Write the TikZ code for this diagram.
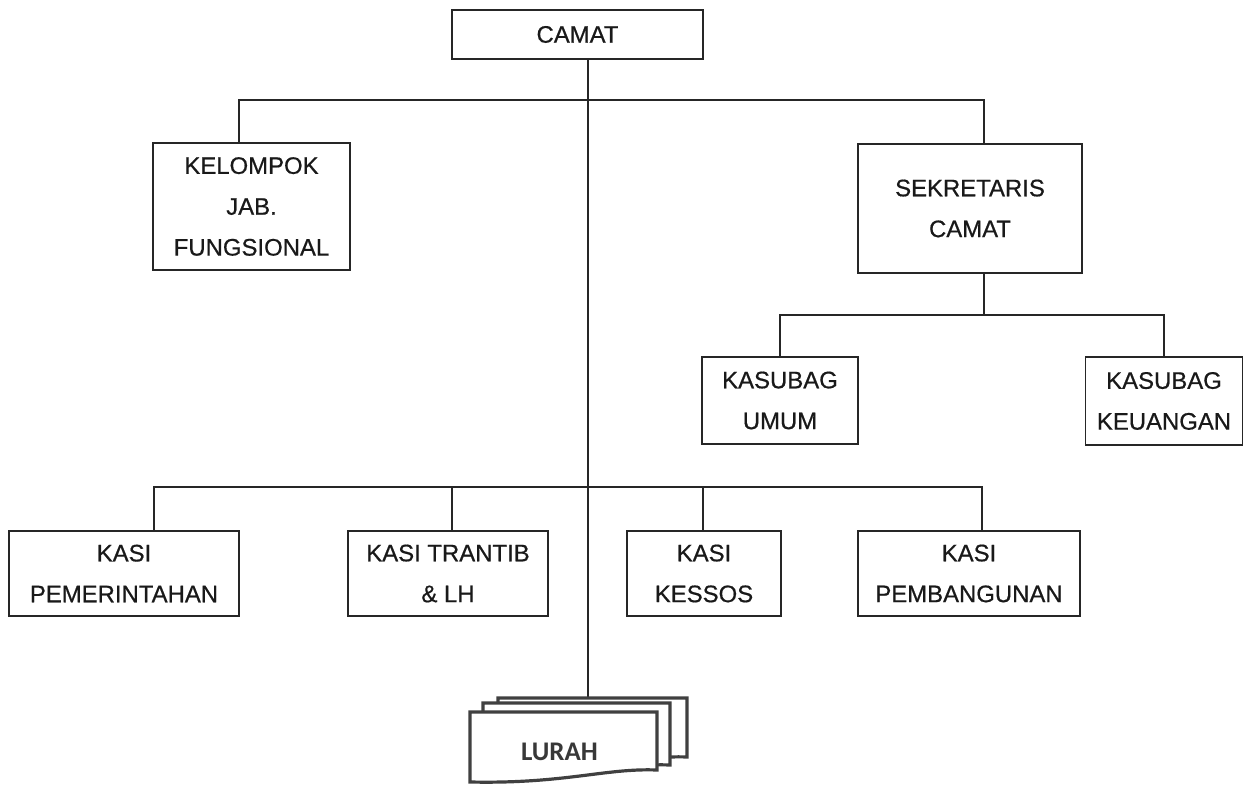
\documentclass[tikz,border=0pt]{standalone}
\usepackage{fontspec}
\setmainfont{Liberation Sans}
\newfontfamily\boxfont[FakeBold=0.6]{Liberation Sans}
\newfontfamily\lurahfont{Carlito}
\begin{document}
\begin{tikzpicture}[x=1bp,y=-1bp,
  box/.style={draw=black!85, line width=1.2bp, fill=white, inner sep=0pt, outer sep=0pt,
    align=center, text=black!90, font=\boxfont\fontsize{24}{41}\selectfont},
  conn/.style={draw=black!85, line width=1.2bp},
  doc/.style={draw=black!75, line width=3.2bp, fill=white, line join=miter}]
\useasboundingbox (0,0) rectangle (1257,785);

% nodes
\node[box, minimum width=251bp, minimum height=49bp] (camat) at (577.5,34.5) {CAMAT};
\node[box, minimum width=197bp, minimum height=127bp] (kel) at (251.5,206.5) {KELOMPOK\\JAB.\\FUNGSIONAL};
\node[box, minimum width=224bp, minimum height=129bp] (sek) at (970,208.5) {SEKRETARIS\\CAMAT};
\node[box, minimum width=156bp, minimum height=87bp] (umum) at (780,400.5) {KASUBAG\\UMUM};
\node[box, minimum width=157bp, minimum height=88bp] (keu) at (1164,401) {KASUBAG\\KEUANGAN};
\node[box, minimum width=230bp, minimum height=85bp] (pem) at (124,573.5) {KASI\\PEMERINTAHAN};
\node[box, minimum width=200bp, minimum height=85bp] (tra) at (448,573.5) {KASI TRANTIB\\\& LH};
\node[box, minimum width=154bp, minimum height=85bp] (kes) at (704,573.5) {KASI\\KESSOS};
\node[box, minimum width=222bp, minimum height=85bp] (pbg) at (969,573.5) {KASI\\PEMBANGUNAN};

% junction coordinates
\coordinate (ctop) at (588,59);
\coordinate (lurahtop) at (588,698);
\coordinate (jk) at (239,100);
\coordinate (js) at (984,100);
\coordinate (ss) at (984,315);
\coordinate (bp) at (154,487);
\coordinate (bt) at (452,487);
\coordinate (bk) at (703,487);
\coordinate (bb) at (982,487);

% connectors
\draw[conn] (ctop) -- (lurahtop);
\draw[conn] (kel.north -| jk) -- (jk) -- (js) -- (sek.north -| js);
\draw[conn] (sek.south -| ss) -- (ss);
\draw[conn] (umum.north) -- (umum.north |- ss) -- (keu.north |- ss) -- (keu.north);
\draw[conn] (pem.north -| bp) -- (bp) -- (bb) -- (pbg.north -| bb);
\draw[conn] (tra.north -| bt) -- (bt);
\draw[conn] (kes.north -| bk) -- (bk);

% LURAH stacked documents
\draw[doc] (498,698) -- (687,698) -- (687,757) .. controls (640,755) and (600,772) .. (498,770) -- cycle;
\draw[doc] (483,703) -- (670,703) -- (670,765) .. controls (620,763) and (580,779) .. (483,777) -- cycle;
\draw[doc] (470,712) -- (657,712) -- (657,770) .. controls (605,768) and (565,784) .. (470,782) -- cycle;
\node[anchor=base, inner sep=0pt, text=black!78, font=\lurahfont\bfseries\fontsize{27}{30}\selectfont] (lurah) at (559.5,760) {LURAH};
\end{tikzpicture}
\end{document}
